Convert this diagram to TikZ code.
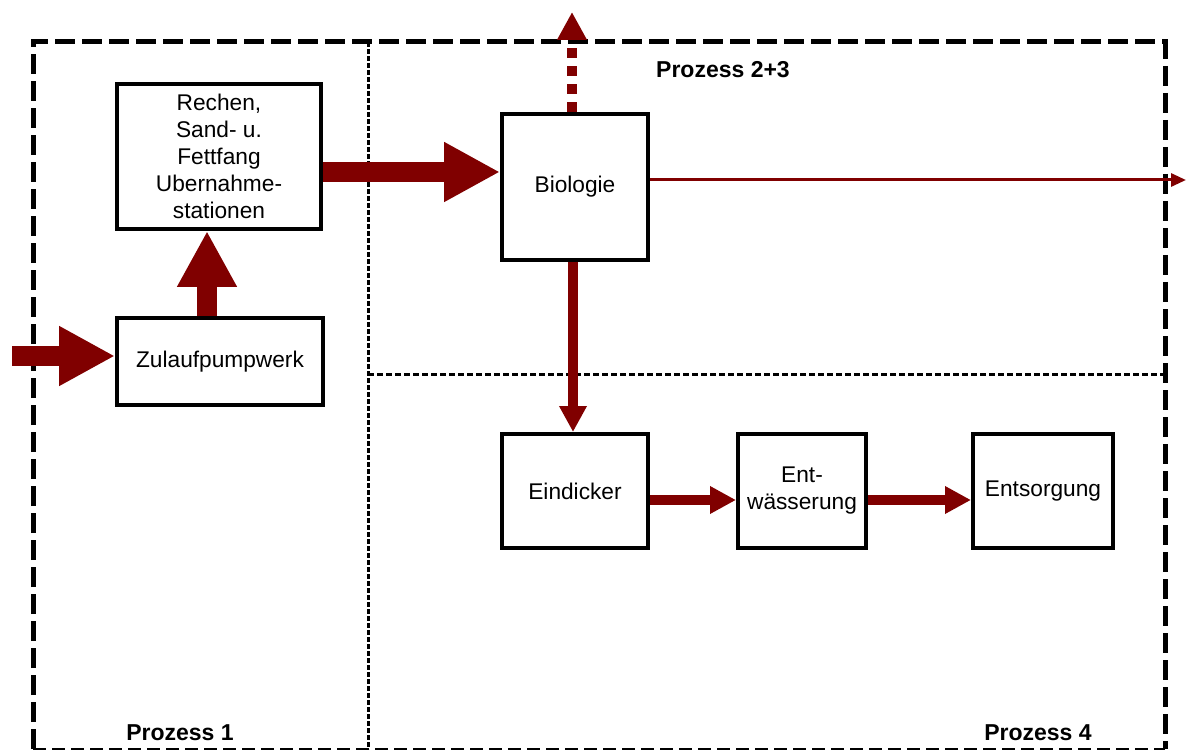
\documentclass[tikz,border=0pt]{standalone}
\usepackage{fontspec}
\setmainfont{Liberation Sans}
\usetikzlibrary{arrows.meta}
\definecolor{dunkelrot}{RGB}{128,0,0}

\begin{document}
\begin{tikzpicture}[x=1pt,y=-1pt,
    font=\fontsize{22.7}{27}\selectfont,
    block/.style={draw,line width=4pt,inner sep=0pt,align=center},
    flow/.style={draw=dunkelrot},
    bigflow/.style={flow,line width=20pt,-{Triangle[length=56pt,width=56pt]}},
    midflow/.style={flow,line width=10pt,-{Triangle[length=26pt,width=26pt]}},
    thinflow/.style={flow,line width=3pt,-{Triangle[length=15pt,width=13pt]}},
    label/.style={font=\fontsize{23}{27}\selectfont\bfseries}]
  \useasboundingbox (0,0) rectangle (1186,751);

  % Rahmen der Prozesse
  \draw[line width=5pt,dash pattern=on 20pt off 7pt] (33,749) -- (33,42) -- (1165,42) -- (1165,749);
  \draw[line width=2.5pt,dash pattern=on 13pt off 6pt] (33,749) -- (1165,749);
  \draw[line width=3pt,dash pattern=on 5pt off 2pt] (368,42) -- (368,749);
  \draw[line width=3pt,dash pattern=on 6pt off 3pt] (368,374) -- (1165,374);

  % Bloecke
  \node[block,minimum width=204pt,minimum height=145pt] (rechen) at (219,156.5)
    {Rechen,\\ Sand- u.\\ Fettfang\\ Ubernahme-\\ stationen};
  \node[block,minimum width=206pt,minimum height=87pt] (zulauf) at (220,361.5) {Zulaufpumpwerk};
  \node[block,minimum width=146pt,minimum height=146pt] (bio) at (575,187) {Biologie};
  \node[block,minimum width=146pt,minimum height=114pt] (eind) at (575,491) {Eindicker};
  \node[block,minimum width=128pt,minimum height=114pt] (entw) at (802,491) {Ent-\\ wässerung};
  \node[block,minimum width=140pt,minimum height=114pt] (entsorg) at (1043,491) {Entsorgung};

  % freie Enden
  \coordinate (zufluss) at (12,356);
  \coordinate (ablauf) at (1186,180);
  \coordinate (oben) at (572,12);

  % Pfeile
  \draw[bigflow] (zufluss) -- (zufluss -| zulauf.west);
  \draw[bigflow] ([xshift=-13pt]zulauf.north) -- ([xshift=-13pt]zulauf.north |- rechen.south);
  \draw[bigflow] ([yshift=-15.5pt]rechen.east) -- ([yshift=-15.5pt]rechen.east -| bio.west);
  \draw[thinflow] ([yshift=7pt]bio.east) -- (ablauf);
  \draw[flow,line width=10pt,dash pattern=on 10pt off 8pt,-{Triangle[length=28pt,width=28pt]}]
    ([xshift=-3pt]bio.north) -- (oben);
  \draw[midflow] ([xshift=-2pt]bio.south) -- ([xshift=-2pt]eind.north);
  \draw[midflow] ([yshift=-9pt]eind.east) -- ([yshift=-9pt]eind.east -| entw.west);
  \draw[midflow] ([yshift=-9pt]entw.east) -- ([yshift=-9pt]entw.east -| entsorg.west);

  % Beschriftungen
  \node[label] (p23) at (723,70) {Prozess 2+3};
  \node[label] (p1) at (180,733) {Prozess 1};
  \node[label] (p4) at (1038,733) {Prozess 4};
\end{tikzpicture}
\end{document}
